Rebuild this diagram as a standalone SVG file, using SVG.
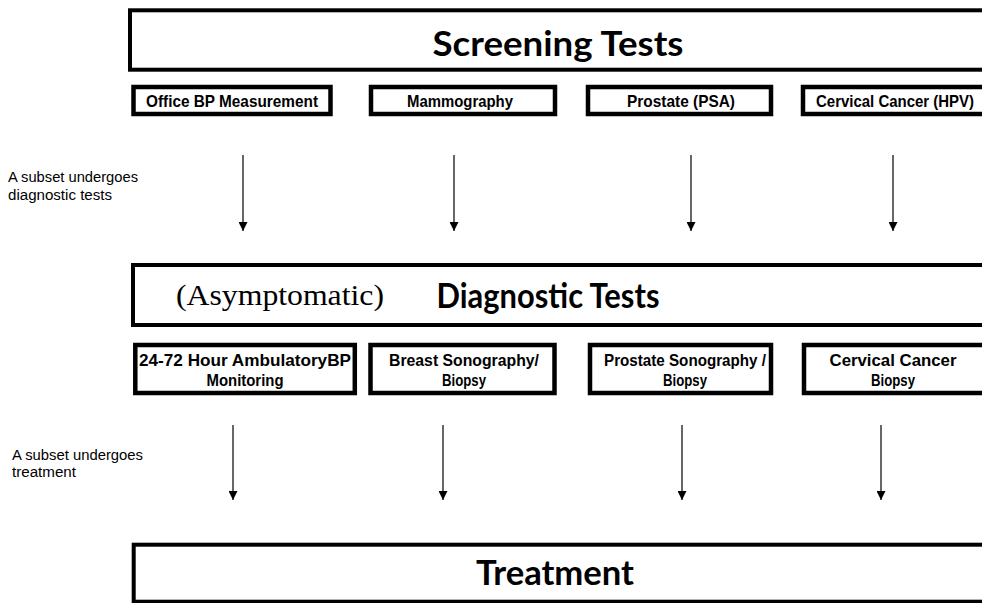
<svg xmlns="http://www.w3.org/2000/svg" width="982" height="603" viewBox="0 0 982 603">
<style>
.big{fill:#fff;stroke:#000;stroke-width:4}
.box{fill:#fff;stroke:#000;stroke-width:4.5}
.title{font-family:Lato,"Open Sans","Liberation Sans",sans-serif;font-weight:bold;font-size:35px;fill:#000;text-anchor:middle}
.lbl{font-family:"Liberation Sans",Arial,sans-serif;font-weight:bold;font-size:16.5px;fill:#000;text-anchor:middle}
.note{font-family:"Liberation Sans",Arial,sans-serif;font-size:14px;fill:#000}
.serif{font-family:"Liberation Serif","Times New Roman",serif;font-size:30px;fill:#000}
.arr{stroke:#000;stroke-width:1.2;fill:none;marker-end:url(#ah)}
</style>
<defs>
<marker id="ah" markerWidth="9" markerHeight="9" refX="9" refY="4.5" orient="auto" markerUnits="userSpaceOnUse">
<path d="M0,0 L9,4.5 L0,9 Z" fill="#000"/>
</marker>
</defs>
<rect width="982" height="603" fill="#fff"/>

<g id="screening">
<rect class="big" x="130" y="10.3" width="900" height="59.4"/>
<text class="title" x="558" y="56" textLength="251" lengthAdjust="spacingAndGlyphs">Screening Tests</text>
</g>
<g id="office-bp">
<rect class="box" x="133.5" y="87" width="197" height="27"/>
<text class="lbl" x="232" y="106.5" textLength="172" lengthAdjust="spacingAndGlyphs">Office BP Measurement</text>
</g>
<g id="mammography">
<rect class="box" x="371" y="87" width="184" height="27"/>
<text class="lbl" x="460" y="106.5" textLength="106" lengthAdjust="spacingAndGlyphs">Mammography</text>
</g>
<g id="psa">
<rect class="box" x="588" y="87" width="183" height="27"/>
<text class="lbl" x="681" y="106.5" textLength="108" lengthAdjust="spacingAndGlyphs">Prostate (PSA)</text>
</g>
<g id="hpv">
<rect class="box" x="803" y="87" width="200" height="27"/>
<text class="lbl" x="895" y="106.5" textLength="158" lengthAdjust="spacingAndGlyphs">Cervical Cancer (HPV)</text>
</g>

<g id="note1">
<text class="note" x="8" y="182" textLength="130" lengthAdjust="spacingAndGlyphs">A subset undergoes</text>
<text class="note" x="8" y="200" textLength="104" lengthAdjust="spacingAndGlyphs">diagnostic tests</text>
</g>

<g id="diagnostic">
<rect class="big" x="133" y="265" width="900" height="60"/>
<text class="serif" x="176" y="305" textLength="208" lengthAdjust="spacingAndGlyphs">(Asymptomatic)</text>
<text class="title" x="548" y="308" textLength="223" lengthAdjust="spacingAndGlyphs">Diagnostic Tests</text>
</g>
<g id="abpm">
<rect class="box" x="135.3" y="345" width="219.5" height="48"/>
<text class="lbl" x="245" y="366" textLength="212" lengthAdjust="spacingAndGlyphs">24-72 Hour AmbulatoryBP</text>
<text class="lbl" x="245" y="385.5" textLength="77" lengthAdjust="spacingAndGlyphs">Monitoring</text>
</g>
<g id="breast">
<rect class="box" x="370.5" y="345" width="184" height="48"/>
<text class="lbl" x="464" y="366" textLength="150" lengthAdjust="spacingAndGlyphs">Breast Sonography/</text>
<text class="lbl" x="464" y="385.5" textLength="44" lengthAdjust="spacingAndGlyphs">Biopsy</text>
</g>
<g id="prostate-bx">
<rect class="box" x="590" y="345" width="181" height="48"/>
<text class="lbl" x="685" y="366" textLength="162" lengthAdjust="spacingAndGlyphs">Prostate Sonography /</text>
<text class="lbl" x="685" y="385.5" textLength="44" lengthAdjust="spacingAndGlyphs">Biopsy</text>
</g>
<g id="cervical-bx">
<rect class="box" x="804" y="345" width="200" height="48"/>
<text class="lbl" x="893" y="366" textLength="127" lengthAdjust="spacingAndGlyphs">Cervical Cancer</text>
<text class="lbl" x="893" y="385.5" textLength="44" lengthAdjust="spacingAndGlyphs">Biopsy</text>
</g>

<g id="note2">
<text class="note" x="12" y="460" textLength="131" lengthAdjust="spacingAndGlyphs">A subset undergoes</text>
<text class="note" x="12" y="477" textLength="64" lengthAdjust="spacingAndGlyphs">treatment</text>
</g>

<g id="treatment">
<rect class="big" x="133.7" y="544.7" width="900" height="57"/>
<text class="title" x="555" y="585" textLength="158" lengthAdjust="spacingAndGlyphs">Treatment</text>
</g>

<g id="connectors">
<line class="arr" x1="243" y1="155" x2="243" y2="231"/>
<line class="arr" x1="454" y1="155" x2="454" y2="231"/>
<line class="arr" x1="691" y1="155" x2="691" y2="231"/>
<line class="arr" x1="893" y1="155" x2="893" y2="231"/>
<line class="arr" x1="233" y1="425" x2="233" y2="500"/>
<line class="arr" x1="443" y1="425" x2="443" y2="500"/>
<line class="arr" x1="682" y1="425" x2="682" y2="500"/>
<line class="arr" x1="881" y1="425" x2="881" y2="500"/>
</g>
</svg>
